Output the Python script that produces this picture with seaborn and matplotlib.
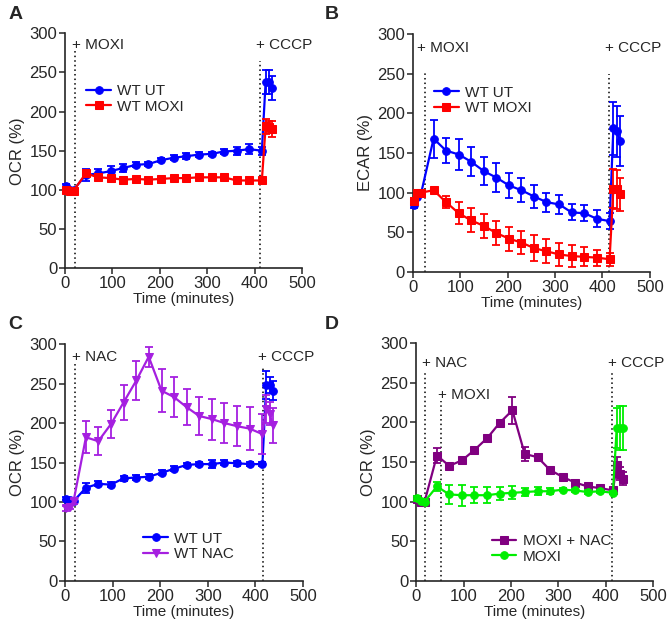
import matplotlib
matplotlib.use("Agg")
import matplotlib.pyplot as plt
import seaborn as sns
import pandas as pd

# time points (minutes)
time = [2, 10, 18, 44, 70, 97, 123, 150, 176, 203, 229, 256, 282, 309, 335,
        362, 388, 415, 423, 430, 437]

# panel A - OCR
a_ut = [105, 100, 100, 119, 121, 124, 128, 132, 133, 138, 141, 143, 145, 146,
        149, 150, 152, 150, 238, 238, 230]
a_ut_err = [2, 2, 2, 8, 6, 6, 5, 3, 3, 3, 3, 4, 3, 3, 3, 5, 6, 5, 15, 15, 15]
a_moxi = [100, 99, 99, 121, 116, 115, 113, 114, 113, 114, 115, 115, 116, 116,
          116, 112, 112, 112, 181, 180, 178]
a_moxi_err = [2, 2, 2, 5, 3, 3, 2, 2, 2, 2, 2, 2, 2, 2, 2, 2, 2, 2, 10, 8, 10]

# panel B - ECAR
b_ut = [84, 95, 100, 168, 153, 148, 139, 127, 119, 109, 103, 95, 88, 85, 75,
        74, 67, 64, 181, 177, 165]
b_ut_err = [3, 3, 3, 24, 16, 20, 18, 18, 18, 16, 15, 14, 12, 12, 10, 10, 11,
            10, 33, 32, 31]
b_moxi = [90, 99, 100, 103, 88, 74, 65, 58, 49, 42, 37, 30, 26, 22, 20, 19,
          18, 16, 105, 104, 98]
b_moxi_err = [3, 3, 3, 3, 8, 14, 15, 15, 15, 15, 15, 16, 15, 15, 14, 12, 10,
              8, 25, 25, 21]

# panel C - OCR with NAC
c_ut = [104, 102, 101, 118, 123, 122, 130, 131, 132, 137, 142, 147, 148, 148,
        150, 149, 148, 148, 248, 248, 241]
c_ut_err = [2, 2, 2, 6, 3, 3, 3, 3, 3, 3, 3, 3, 3, 5, 3, 3, 3, 3, 18, 10, 12]
c_nac = [92, 94, 101, 182, 177, 199, 226, 254, 284, 241, 233, 220, 209, 205,
         200, 196, 193, 186, 218, 212, 197]
c_nac_err = [3, 3, 3, 20, 18, 18, 22, 25, 13, 27, 25, 23, 24, 26, 25, 25, 27,
             25, 18, 15, 22]

# panel D - OCR, MOXI + NAC
d_moxi_nac = [103, 100, 100, 158, 145, 152, 165, 180, 199, 215, 160, 156, 140,
              131, 124, 119, 117, 114, 146, 135, 129]
d_moxi_nac_err = [3, 2, 2, 10, 3, 3, 3, 3, 3, 17, 9, 3, 3, 3, 3, 3, 3, 3, 10,
                  8, 8]
d_moxi = [104, 101, 100, 119, 109, 108, 108, 108, 110, 111, 112, 113, 113, 115,
          114, 112, 113, 111, 193, 193, 193]
d_moxi_err = [3, 2, 2, 6, 12, 13, 10, 10, 8, 8, 5, 5, 4, 2, 2, 2, 2, 2, 25, 28,
              28]

sns.set_style("ticks")
plt.rcParams['font.family'] = ['Liberation Sans', 'DejaVu Sans']
plt.rcParams['font.size'] = 10

fig = plt.figure(figsize=(6.7, 6.28), dpi=100)
axA = fig.add_axes([0.097, 0.573, 0.354, 0.374])
axB = fig.add_axes([0.616, 0.567, 0.354, 0.379])
axC = fig.add_axes([0.097, 0.075, 0.355, 0.377])
axD = fig.add_axes([0.621, 0.075, 0.354, 0.379])


def series(ax, y, err, color, marker, label, ms=5.5):
    df = pd.DataFrame({"t": time, "v": y})
    sns.lineplot(data=df, x="t", y="v", ax=ax, color=color, marker=marker,
                 markersize=ms, markeredgecolor=color, linewidth=1.6,
                 label=label, clip_on=False, zorder=3)
    ax.errorbar(time, y, yerr=err, fmt="none", ecolor=color, elinewidth=1.3,
                capsize=3, capthick=1.3, clip_on=False, zorder=3)


def vline(ax, x, top):
    ax.plot([x, x], [0, top], color="black", linestyle=(0, (1, 2)),
            linewidth=1.1, zorder=1)


def style(ax, ylabel, leg_xy):
    ax.set_xlim(0, 500)
    ax.set_ylim(0, 300)
    ax.set_xticks(range(0, 501, 100))
    ax.set_yticks(range(0, 301, 50))
    ax.set_xlabel("Time (minutes)", fontsize=11, labelpad=1)
    ax.set_ylabel(ylabel, fontsize=12, labelpad=3)
    ax.tick_params(labelsize=12, length=4, width=1.1, pad=1.5)
    for s in ["left", "bottom"]:
        ax.spines[s].set_linewidth(1.2)
    sns.despine(ax=ax)
    ax.legend(loc="center left", bbox_to_anchor=leg_xy, frameon=False,
              fontsize=11, handlelength=1.6, handletextpad=0.4,
              labelspacing=0.1, borderpad=0, borderaxespad=0)


# A
series(axA, a_ut, a_ut_err, "#0000FF", "o", "WT UT")
series(axA, a_moxi, a_moxi_err, "#FF0000", "s", "WT MOXI")
vline(axA, 21, 278)
vline(axA, 412, 265)
axA.text(14, 285, "+ MOXI", fontsize=11, va="center")
axA.text(402, 285, "+ CCCP", fontsize=11, va="center")
style(axA, "OCR (%)", (0.09, 0.72))

# B
series(axB, b_ut, b_ut_err, "#0000FF", "o", "WT UT")
series(axB, b_moxi, b_moxi_err, "#FF0000", "s", "WT MOXI")
vline(axB, 25, 251)
vline(axB, 414, 249)
axB.text(10, 282, "+ MOXI", fontsize=11, va="center")
axB.text(406, 282, "+ CCCP", fontsize=11, va="center")
style(axB, "ECAR (%)", (0.09, 0.72))

# C
series(axC, c_ut, c_ut_err, "#0000FF", "o", "WT UT")
series(axC, c_nac, c_nac_err, "#A51FE0", "v", "WT NAC")
vline(axC, 22, 275)
vline(axC, 416, 270)
axC.text(14, 284, "+ NAC", fontsize=11, va="center")
axC.text(405, 284, "+ CCCP", fontsize=11, va="center")
style(axC, "OCR (%)", (0.33, 0.145))

# D
series(axD, d_moxi_nac, d_moxi_nac_err, "#800080", "s", "MOXI + NAC")
series(axD, d_moxi, d_moxi_err, "#00EE00", "o", "MOXI")
vline(axD, 19, 262)
vline(axD, 52, 227)
vline(axD, 414, 263)
axD.text(12, 275, "+ NAC", fontsize=11, va="center")
axD.text(46, 234, "+ MOXI", fontsize=11, va="center")
axD.text(405, 275, "+ CCCP", fontsize=11, va="center")
style(axD, "OCR (%)", (0.32, 0.135))

for x, y, s in [(0.012, 0.99, "A"), (0.485, 0.99, "B"),
                (0.012, 0.497, "C"), (0.485, 0.497, "D")]:
    fig.text(x, y, s, fontsize=14, fontweight="bold", va="top")

fig.savefig("out.png", dpi=100)
